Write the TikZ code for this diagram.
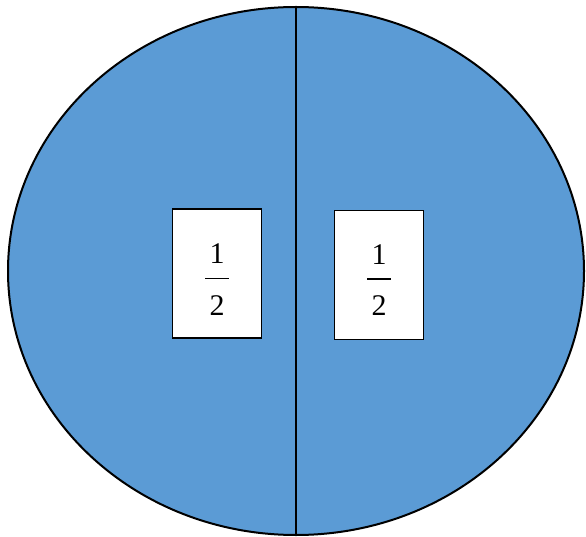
\documentclass[tikz,border=0pt]{standalone}
\usepackage{fontspec}
\setmainfont{Liberation Serif}
\usetikzlibrary{positioning,calc,shapes.geometric}
\definecolor{pieblue}{RGB}{91,155,213}

% stacked one half: numerator, bar, denominator
\newcommand{\halffrac}{\vbox{\offinterlineskip\halign{\hfil##\hfil\cr
  1\cr\noalign{\vskip14pt}
  \vrule width24pt height1.5pt depth0pt\cr\noalign{\vskip16pt}
  2\cr}}}

\begin{document}
\begin{tikzpicture}[
    x=1pt, y=-1pt,
    whole/.style={draw, ellipse, fill=pieblue, line width=2pt, minimum width=576pt, minimum height=528pt, inner sep=0pt},
    part/.style={draw, rectangle, fill=white, line width=1.8pt, minimum width=89pt, minimum height=129pt, inner sep=0pt},
    half/.style={inner sep=0pt, font=\fontsize{30}{36}\selectfont}
]
\useasboundingbox (0,0) rectangle (586,537);

% Whole shape and divider
\node[whole] (pie) at (296,271) {};
\draw[line width=1.8pt] (pie.north) -- (pie.south);

% Label boxes
\node[part] (lbox) at (217,273.5) {};
\node[part] (rbox) at (379,275) {};

% Fractions
\node[half] (lhalf) at ($(lbox)+(0,6)$) {\halffrac};
\node[half] (rhalf) at ($(rbox)+(0,5)$) {\halffrac};

\end{tikzpicture}
\end{document}
